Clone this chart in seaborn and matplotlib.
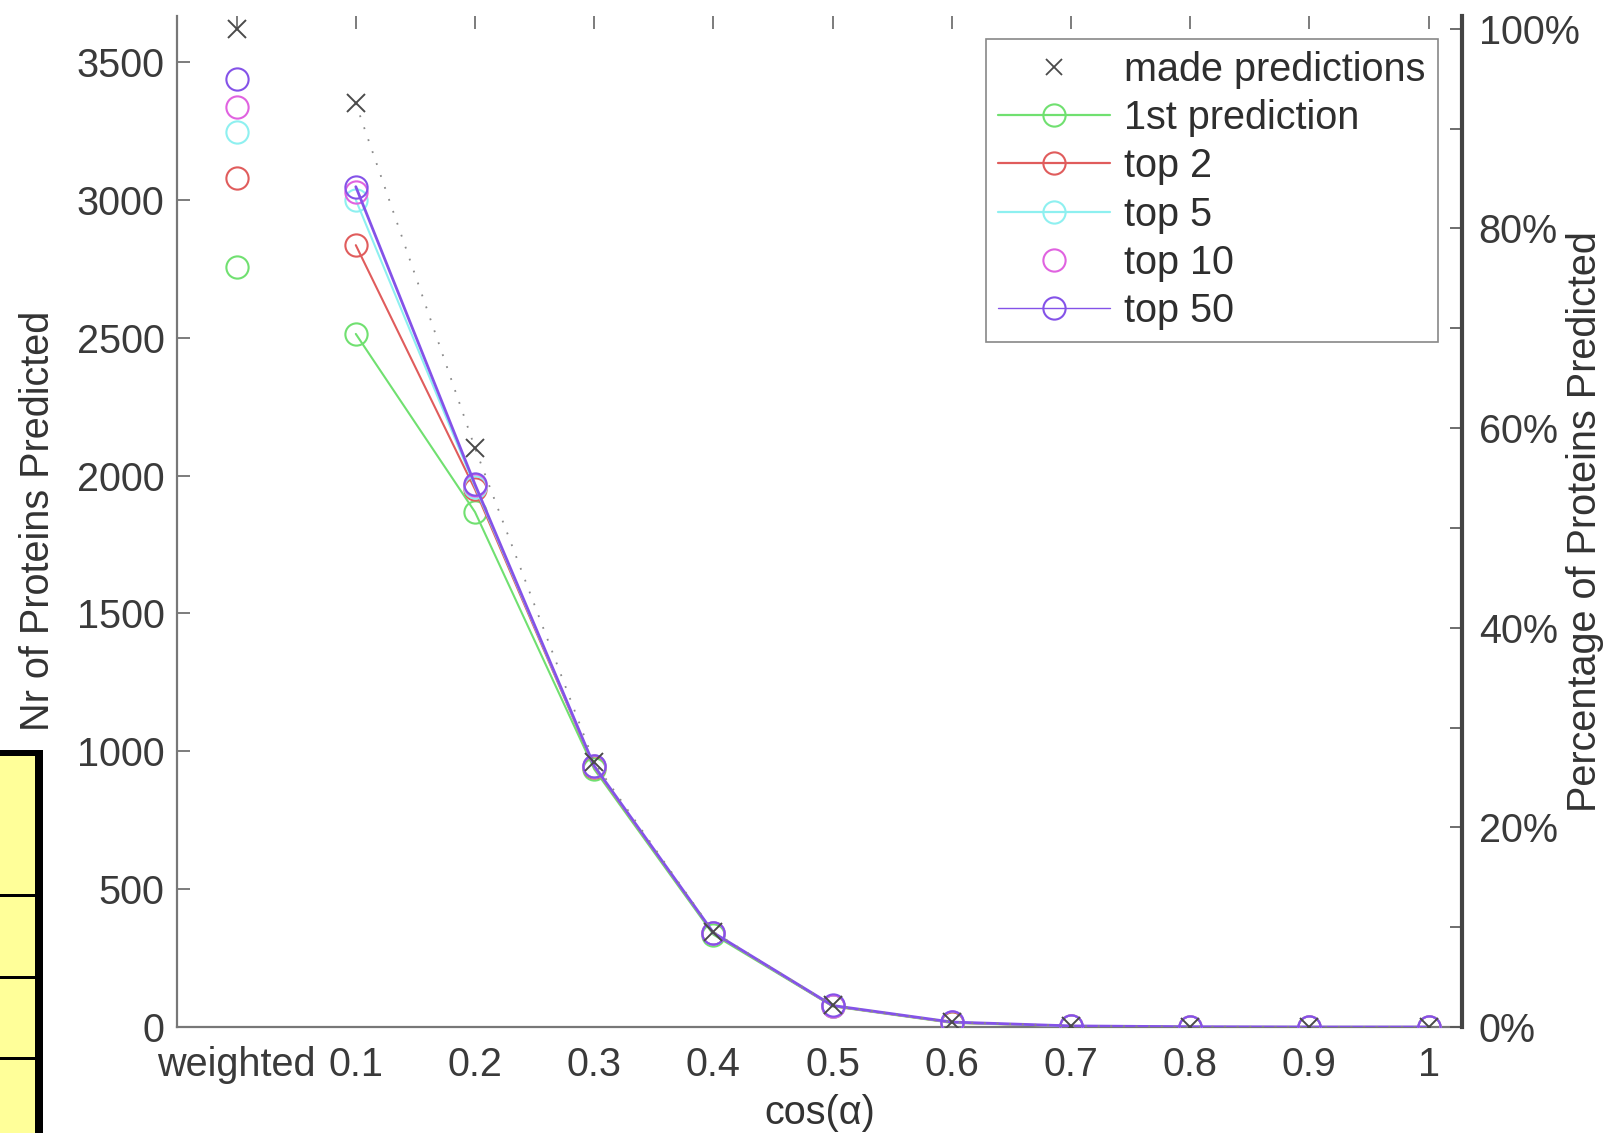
import numpy as np
import pandas as pd
import seaborn as sns
import matplotlib
matplotlib.use("Agg")
import matplotlib.pyplot as plt
from matplotlib.lines import Line2D
from matplotlib.patches import Rectangle
from matplotlib.ticker import FuncFormatter, MultipleLocator

# ---------------- data ----------------
x_labels = ["weighted", "0.1", "0.2", "0.3", "0.4", "0.5", "0.6", "0.7", "0.8", "0.9", "1"]
made_predictions = [3621, 3350, 2100, 960, 345, 78, 18, 4, 1, 0, 0]
first_prediction = [2758, 2514, 1868, 935, 335, 75, 15, 3, 0, 0, 0]
top_2 = [3078, 2836, 1950, 942, 340, 76, 16, 3, 0, 0, 0]
top_5 = [3247, 3000, 1960, 945, 341, 77, 17, 3, 0, 0, 0]
top_10 = [3336, 3030, 1965, 946, 341, 77, 17, 4, 0, 0, 0]
top_50 = [3438, 3048, 1968, 947, 342, 78, 18, 4, 1, 0, 0]
total_proteins = 3621
y_ticks = [0, 500, 1000, 1500, 2000, 2500, 3000, 3500]
y_top = 3669

series_names = ["made predictions", "1st prediction", "top 2", "top 5", "top 10", "top 50"]
series_values = [made_predictions, first_prediction, top_2, top_5, top_10, top_50]
colors = ["#4a4a4a", "#70e070", "#e05c5c", "#8ef0f0", "#e062e0", "#8452e8"]

FS = 28.5

# ---------------- style ----------------
sns.set_theme(style="white")
plt.rcParams["font.family"] = ["Liberation Sans", "DejaVu Sans"]
plt.rcParams["font.size"] = FS

fig = plt.figure(figsize=(16.13, 11.33), dpi=100)
ax = fig.add_axes([177 / 1613, 1 - 1027 / 1133, (1462 - 177) / 1613, (1027 - 15.5) / 1133])

xpos = list(range(len(x_labels)))
rows = []
for name, vals in zip(series_names, series_values):
    for i, v in enumerate(vals):
        rows.append({"series": name, "x": xpos[i], "value": v, "label": x_labels[i]})
df = pd.DataFrame(rows)

ms = 16
for name, col in zip(series_names, colors):
    sub = df[df["series"] == name]
    weighted = sub[sub["x"] == 0]
    rest = sub[sub["x"] > 0]
    if name == "made predictions":
        sns.lineplot(data=rest, x="x", y="value", ax=ax, color="#8a8a8a", linestyle=(0, (1, 6)),
                     linewidth=1.3, marker="x", markersize=13, markeredgecolor=col,
                     markeredgewidth=1.4, zorder=5)
        sns.lineplot(data=weighted, x="x", y="value", ax=ax, color=col, linestyle="",
                     marker="x", markersize=13, markeredgecolor=col, markeredgewidth=1.4,
                     zorder=5, clip_on=False)
    elif name == "top 10":
        sns.lineplot(data=sub, x="x", y="value", ax=ax, color=col, linestyle="",
                     marker="o", markersize=ms, markerfacecolor="none", markeredgecolor=col,
                     markeredgewidth=1.5, zorder=3)
    else:
        lw = 2.0 if name == "top 50" else 1.5
        sns.lineplot(data=rest, x="x", y="value", ax=ax, color=col, linewidth=lw,
                     marker="o", markersize=ms, markerfacecolor="none", markeredgecolor=col,
                     markeredgewidth=1.5, zorder=3)
        sns.lineplot(data=weighted, x="x", y="value", ax=ax, color=col, linestyle="",
                     marker="o", markersize=ms, markerfacecolor="none", markeredgecolor=col,
                     markeredgewidth=1.5, zorder=3)

ax.set_xlim(-0.5, 10.28)
ax.set_ylim(0, y_top)
ax.set_xticks(xpos)
ax.set_xticklabels(x_labels)
ax.set_yticks(y_ticks)
ax.tick_params(axis="both", direction="in", length=9, width=1.2, color="#666666",
               labelcolor="#3a3a3a", labelsize=FS, pad=9)
ax.tick_params(axis="x", top=True, pad=14)
ax.set_xlabel("cos(α)", color="#333333", fontsize=FS)
ax.set_ylabel("Nr of Proteins Predicted", color="#333333", fontsize=FS)
ax.xaxis.set_label_coords(0.5, -0.066)
ax.yaxis.set_label_coords(-0.093, 0.5)
for s in ["left", "bottom"]:
    ax.spines[s].set_color("#777777")
    ax.spines[s].set_linewidth(1.6)
ax.spines["top"].set_visible(False)
ax.spines["right"].set_visible(False)
ax.grid(False)

# right percentage axis
ax2 = ax.twinx()
ax2.set_ylim(0, y_top / total_proteins * 100)
ax2.yaxis.set_major_locator(MultipleLocator(20))
ax2.yaxis.set_minor_locator(MultipleLocator(10))
ax2.yaxis.set_major_formatter(FuncFormatter(lambda v, p: f"{v:.0f}%"))
ax2.tick_params(axis="y", which="both", direction="in", length=9, width=1.2, color="#555555",
                labelcolor="#3a3a3a", labelsize=FS, pad=12)
ax2.set_ylabel("Percentage of Proteins Predicted", color="#333333", fontsize=FS)
ax2.yaxis.set_label_coords(1.081, 0.5)
for s in ["left", "top", "bottom"]:
    ax2.spines[s].set_visible(False)
ax2.spines["right"].set_color("#444444")
ax2.spines["right"].set_linewidth(3)
ax2.grid(False)

# legend
handles = [
    Line2D([], [], linestyle="", marker="x", color=colors[0], markersize=11, markeredgewidth=1.3),
    Line2D([], [], color=colors[1], lw=1.6, marker="o", ms=ms, mfc="none", mec=colors[1], mew=1.5),
    Line2D([], [], color=colors[2], lw=1.6, marker="o", ms=ms, mfc="none", mec=colors[2], mew=1.5),
    Line2D([], [], color=colors[3], lw=1.6, marker="o", ms=ms, mfc="none", mec=colors[3], mew=1.5),
    Line2D([], [], linestyle="", marker="o", ms=ms, mfc="none", mec=colors[4], mew=1.5),
    Line2D([], [], color=colors[5], lw=1.0, marker="o", ms=ms, mfc="none", mec=colors[5], mew=1.5),
]
leg = ax2.legend(handles, series_names, loc="upper right", bbox_to_anchor=(0.981, 0.977),
                 borderaxespad=0, frameon=True, fancybox=False, fontsize=FS,
                 handlelength=2.85, handletextpad=0.35, labelspacing=0.26,
                 borderpad=0.3, edgecolor="#888888", framealpha=1)
leg.get_frame().set_linewidth(1.2)
for t in leg.get_texts():
    t.set_color("#2e2e2e")

# partial yellow table at the lower left edge
H = 1133.0
W = 1613.0
def fr(x0, y0, w, h, **kw):
    fig.add_artist(Rectangle((x0 / W, 1 - (y0 + h) / H), w / W, h / H,
                             transform=fig.transFigure, **kw))
fr(0, 752, 38, 381, facecolor="#ffff99", edgecolor="none")
fr(35, 750, 8, 383, facecolor="black", edgecolor="none")
fr(0, 750, 43, 6, facecolor="black", edgecolor="none")
for yy in [895, 977, 1058]:
    fr(0, yy - 1, 36, 2.5, facecolor="black", edgecolor="none")

fig.savefig("out.png", dpi=100)
